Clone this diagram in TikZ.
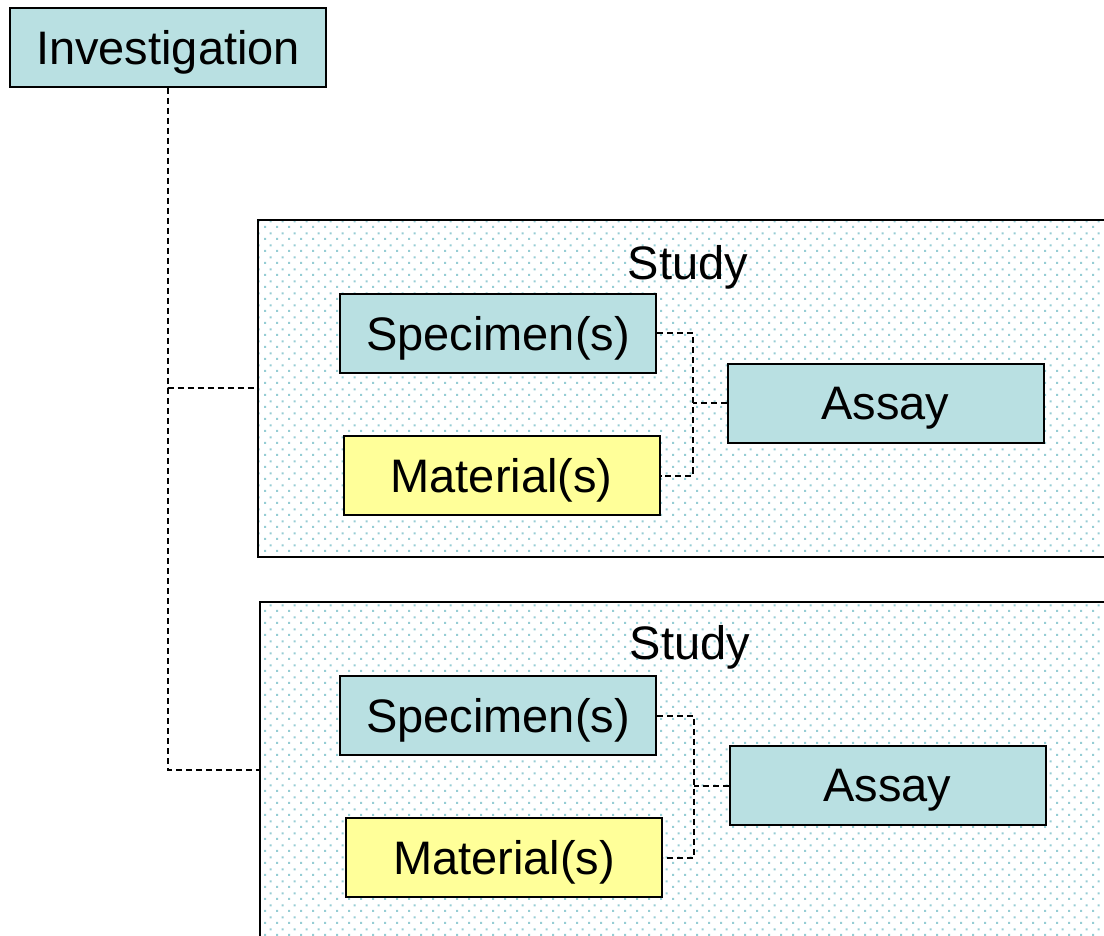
\documentclass[tikz,border=0pt]{standalone}
\usepackage{fontspec}
\setmainfont{Liberation Sans}
\usetikzlibrary{patterns}

\definecolor{boxblue}{RGB}{185,224,226}
\definecolor{boxyellow}{RGB}{255,255,153}
\definecolor{dotblue}{RGB}{150,205,212}

% square dots, staggered
\pgfdeclarepatternformonly{studydots}{\pgfqpoint{0pt}{0pt}}{\pgfqpoint{6pt}{6pt}}{\pgfqpoint{6pt}{6pt}}{
    \pgfpathrectangle{\pgfqpoint{0pt}{0pt}}{\pgfqpoint{1.1pt}{1.1pt}}
    \pgfpathrectangle{\pgfqpoint{3pt}{3pt}}{\pgfqpoint{1.1pt}{1.1pt}}
    \pgfusepath{fill}
}

\begin{document}
\begin{tikzpicture}[
            x = .5pt, y = -.5pt,
            every node/.style={font=\fontsize{23.5}{28}\selectfont, text depth=0pt},
            entity/.style={draw, line width = 1pt, minimum width = 158pt, minimum height = 39.5pt, inner sep = 0pt},
            studyarea/.style={draw, line width = 1pt, pattern = studydots, pattern color = dotblue, minimum width = 431pt, inner sep = 0pt},
            link/.style={line width = 1pt, dash pattern = on 3pt off 2pt},
            ]

        \clip (0, 0) rectangle (1104, 936);

        \node[entity, fill=boxblue] (inv) at (168, 47.5) {Investigation};

        % first study
        \node[studyarea, minimum height = 168.5pt] (study1) at (689, 388.5) {};
        \node (title1) at (688, 262) {Study};
        \node[entity, fill=boxblue] (spec1) at (498, 333.5) {Specimen(s)};
        \node[entity, fill=boxyellow] (mat1) at (501.5, 475.5) {Material(s)};
        \node[entity, fill=boxblue] (assay1) at (885.5, 403.5) {Assay};
        \coordinate (j1) at (693, 403.5);

        % second study
        \node[studyarea, minimum height = 168pt] (study2) at (691, 770) {};
        \node (title2) at (690, 642) {Study};
        \node[entity, fill=boxblue] (spec2) at (498, 715.5) {Specimen(s)};
        \node[entity, fill=boxyellow] (mat2) at (504, 857.5) {Material(s)};
        \node[entity, fill=boxblue] (assay2) at (887.5, 785.5) {Assay};
        \coordinate (j2) at (694, 785.5);

        \draw[link] (inv.south) |- (study1.west);
        \draw[link] (inv.south) |- (study2.west);

        \draw[link] (spec1.east) -| (j1) |- (mat1.east);
        \draw[link] (assay1.west) -- (j1);
        \draw[link] (spec2.east) -| (j2) |- (mat2.east);
        \draw[link] (assay2.west) -- (j2);
    \end{tikzpicture}
\end{document}
